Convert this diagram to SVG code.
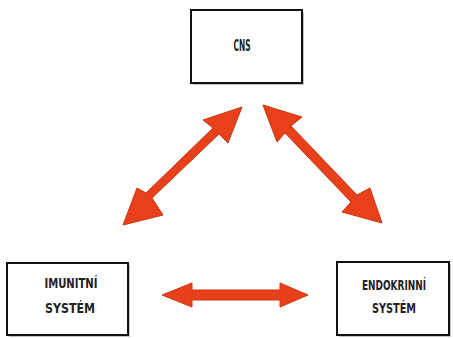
<svg xmlns="http://www.w3.org/2000/svg" width="453" height="338" viewBox="0 0 453 338">
<style>
.box{fill:#fff;stroke:#111;stroke-width:2}
.shadow{fill:#c4c4c4}
.lbl{font-family:"DejaVu Sans Condensed","DejaVu Sans",sans-serif;font-weight:bold;font-size:14px;fill:#222;text-anchor:middle}
.arrow{fill:#e8401a;stroke:#c8360f;stroke-width:1;stroke-linejoin:round}
</style>
<rect width="453" height="338" fill="#fff"/>
<g id="cns">
<rect class="shadow" x="193" y="12" width="111" height="73"/>
<rect class="box" x="191" y="10" width="111" height="73"/>
<text class="lbl" x="242" y="51" style="font-size:16px" textLength="17" lengthAdjust="spacingAndGlyphs">CNS</text>
</g>
<g id="imunitni">
<rect class="shadow" x="9" y="265" width="121" height="72"/>
<rect class="box" x="7" y="263" width="121" height="72"/>
<text class="lbl" x="71" y="288" textLength="53" lengthAdjust="spacingAndGlyphs">IMUNITNÍ</text>
<text class="lbl" x="70" y="313" textLength="50" lengthAdjust="spacingAndGlyphs">SYSTÉM</text>
</g>
<g id="endokrinni">
<rect class="shadow" x="339" y="264" width="112" height="73"/>
<rect class="box" x="337" y="262" width="112" height="73"/>
<text class="lbl" x="394" y="290" textLength="64" lengthAdjust="spacingAndGlyphs">ENDOKRINNÍ</text>
<text class="lbl" x="394" y="313" textLength="44" lengthAdjust="spacingAndGlyphs">SYSTÉM</text>
</g>
<g id="connectors">
<polygon class="arrow" points="242,107 228,143 219,134 152,198 163,215 123,225 137,188 146,193 213,128 203,120"/>
<polygon class="arrow" points="263,105 302,117 291,126 357,195 370,188 382,223 342,212 351,202 285,133 277,142"/>
<polygon class="arrow" points="162,295 192,283 192,290 280,290 280,283 308,295 280,307 280,300 192,300 192,307"/>
</g>
</svg>
